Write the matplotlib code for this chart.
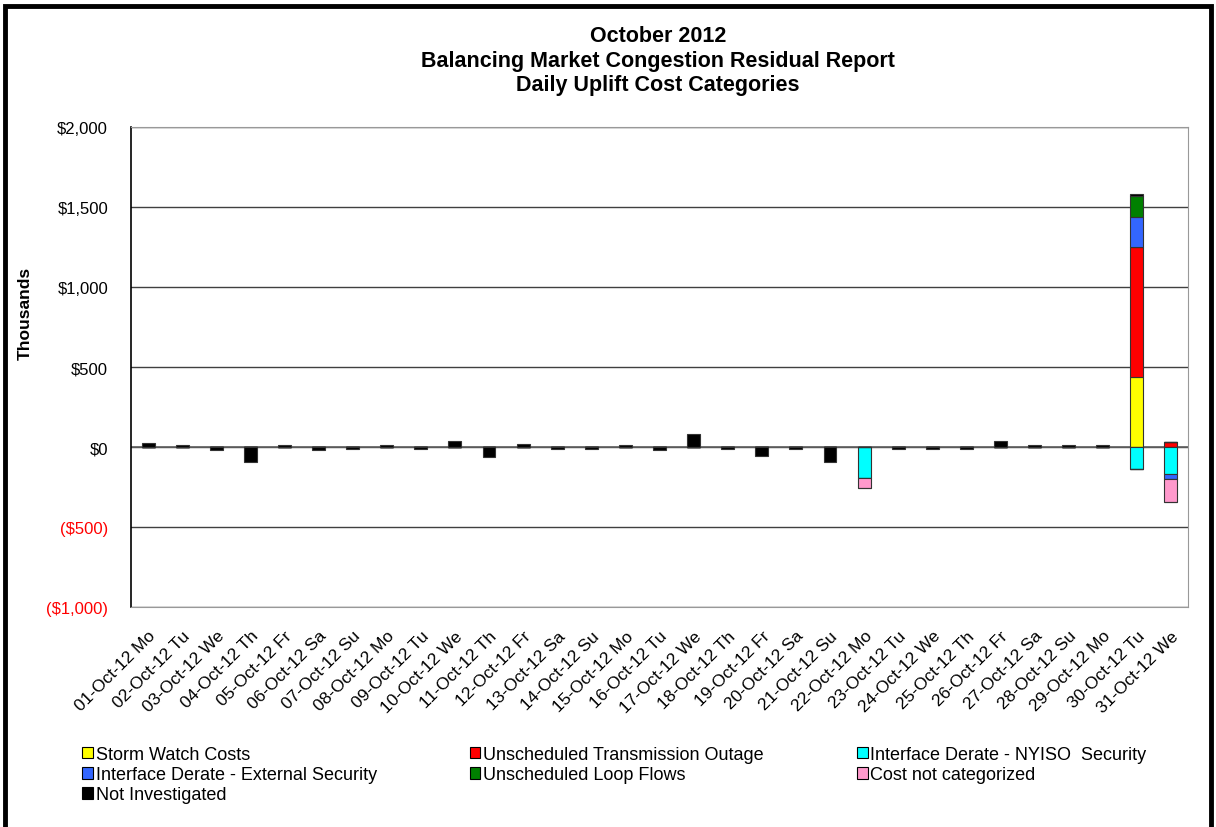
import matplotlib
matplotlib.use("Agg")
import matplotlib.pyplot as plt
from matplotlib.patches import Rectangle, Patch
from matplotlib.ticker import FuncFormatter
import numpy as np

plt.rcParams['font.family'] = ['Liberation Sans', 'DejaVu Sans']

dates = ["01-Oct-12 Mo", "02-Oct-12 Tu", "03-Oct-12 We", "04-Oct-12 Th", "05-Oct-12 Fr",
         "06-Oct-12 Sa", "07-Oct-12 Su", "08-Oct-12 Mo", "09-Oct-12 Tu", "10-Oct-12 We",
         "11-Oct-12 Th", "12-Oct-12 Fr", "13-Oct-12 Sa", "14-Oct-12 Su", "15-Oct-12 Mo",
         "16-Oct-12 Tu", "17-Oct-12 We", "18-Oct-12 Th", "19-Oct-12 Fr", "20-Oct-12 Sa",
         "21-Oct-12 Su", "22-Oct-12 Mo", "23-Oct-12 Tu", "24-Oct-12 We", "25-Oct-12 Th",
         "26-Oct-12 Fr", "27-Oct-12 Sa", "28-Oct-12 Su", "29-Oct-12 Mo", "30-Oct-12 Tu",
         "31-Oct-12 We"]

storm_watch = [0]*29 + [435, 0]
unsched_trans = [0]*29 + [813, 29]
nyiso_security = [0]*21 + [-195] + [0]*7 + [-137, -171]
external_security = [0]*29 + [187, -29]
loop_flows = [0]*29 + [136, 0]
not_categorized = [0]*21 + [-60] + [0]*8 + [-143]
not_investigated = [25, 10, -20, -96, 10, -20, -13, 10, -12, 35,
                    -65, 20, -12, -12, 10, -20, 80, -12, -54, -12,
                    -96, 0, -12, -12, -12, 35, 10, 10, 10, 10, 0]

series = [
    ("Storm Watch Costs", storm_watch, "#FFFF00"),
    ("Unscheduled Transmission Outage", unsched_trans, "#FF0000"),
    ("Interface Derate - NYISO  Security", nyiso_security, "#00FFFF"),
    ("Interface Derate - External Security", external_security, "#3366FF"),
    ("Unscheduled Loop Flows", loop_flows, "#008000"),
    ("Cost not categorized", not_categorized, "#FF99CC"),
    ("Not Investigated", not_investigated, "#000000"),
]

fig = plt.figure(figsize=(12.16, 8.28), dpi=100)
ax = fig.add_axes([131/1216, 1 - 608/828, (1188-131)/1216, (608-128)/828])

x = np.arange(len(dates))
pos_base = np.zeros(len(dates))
neg_base = np.zeros(len(dates))
handles = {}
for name, vals, color in series:
    v = np.array(vals, dtype=float)
    pos = np.where(v > 0, v, 0)
    neg = np.where(v < 0, v, 0)
    ax.bar(x, pos, bottom=pos_base, width=0.38, color=color, edgecolor="#333333",
           linewidth=0.8, zorder=3)
    ax.bar(x, neg, bottom=neg_base, width=0.38, color=color, edgecolor="#333333",
           linewidth=0.8, zorder=3)
    pos_base += pos
    neg_base += neg
    handles[name] = Patch(facecolor=color, edgecolor="black", linewidth=0.8, label=name)

ax.set_xlim(-0.5, len(dates) - 0.5)
ax.set_ylim(-1000, 2000)
ax.set_yticks(np.arange(-1000, 2001, 500))

def fmt(v, p):
    if v < 0:
        return "(${:,.0f})".format(-v)
    return "${:,.0f}".format(v)

ax.yaxis.set_major_formatter(FuncFormatter(fmt))
for lbl, val in zip(ax.get_yticklabels(), ax.get_yticks()):
    lbl.set_color("#FF0000" if val < 0 else "black")
ax.tick_params(axis='y', length=0, labelsize=12, pad=16.5)
ax.set_xticks(x)
ax.set_xticklabels(dates, rotation=45, ha='right', rotation_mode='anchor', fontsize=12.5)
ax.tick_params(axis='x', length=0, pad=15)

ax.yaxis.grid(True, color="#404040", linewidth=1.0, zorder=0)
ax.set_axisbelow(True)
ax.axhline(0, color="#606060", linewidth=1.2, zorder=2)
for s in ["top", "right", "bottom"]:
    ax.spines[s].set_color("#999999")
ax.spines["left"].set_color("black")
ax.spines["left"].set_linewidth(1.2)

fig.text(25/1216, 1 - 313/828, "Thousands", rotation=90, fontsize=12.5, fontweight='bold',
         ha='center', va='center')

fig.text(658/1216, 1 - 37/828, "October 2012", fontsize=15.5, fontweight='bold', ha='center', va='center')
fig.text(658/1216, 1 - 61/828, "Balancing Market Congestion Residual Report", fontsize=15.5,
         fontweight='bold', ha='center', va='center')
fig.text(658/1216, 1 - 86/828, "Daily Uplift Cost Categories", fontsize=15.5, fontweight='bold',
         ha='center', va='center')

order = ["Storm Watch Costs", "Interface Derate - External Security", "Not Investigated",
         "Unscheduled Transmission Outage", "Unscheduled Loop Flows",
         "Interface Derate - NYISO  Security", "Cost not categorized"]
leg = fig.legend(handles=[handles[n] for n in order], loc='upper left',
                 bbox_to_anchor=(82/1216, 1 - 747/828), ncol=3, frameon=False,
                 fontsize=13, handlelength=0.6, handleheight=0.6, handletextpad=0.15,
                 columnspacing=5.15, labelspacing=0.18, borderaxespad=0, borderpad=0)

fig.patches.append(Rectangle((5/1216, -0.05), (1211-5)/1216, 1.05 - 7/828,
                             transform=fig.transFigure, fill=False, edgecolor='black',
                             linewidth=3.5))

fig.savefig("out.png", dpi=100)
